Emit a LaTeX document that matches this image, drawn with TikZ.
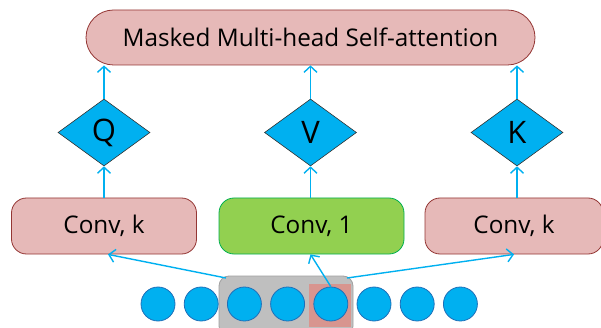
\documentclass[tikz,border=0pt]{standalone}
\usepackage{fontspec}
\setmainfont{Open Sans}
\usetikzlibrary{shapes.geometric,arrows.meta}
\definecolor{pinkf}{HTML}{E6B9B8}
\definecolor{pinkd}{HTML}{943634}
\definecolor{greenf}{HTML}{92D050}
\definecolor{greend}{HTML}{00B050}
\definecolor{cyanc}{HTML}{00B0F0}
\definecolor{circd}{HTML}{1F6FB8}
\definecolor{grayf}{HTML}{BFBFBF}
\definecolor{grayd}{HTML}{A0A0A0}
\definecolor{redsq}{HTML}{D8958F}
\tikzset{
  pinkbox/.style={draw=pinkd, fill=pinkf, line width=0.8pt, rounded corners=15pt, inner sep=0pt},
  greenbox/.style={draw=greend, fill=greenf, line width=0.8pt, rounded corners=15pt, inner sep=0pt},
  qkv/.style={shape=diamond, draw=black!80, fill=cyanc, line width=0.6pt, minimum width=92pt, minimum height=67pt, inner sep=0pt, font=\fontsize{31}{34}\selectfont},
  tok/.style={circle, draw=circd, fill=cyanc, line width=0.8pt, minimum size=34pt, inner sep=0pt},
  conn/.style={draw=cyanc, line width=1.4pt, -{Straight Barb[length=6pt,width=13pt]}},
  lbl/.style={font=\fontsize{24.3}{28}\selectfont}
}
\begin{document}
\begin{tikzpicture}[x=1pt,y=-1pt]
\useasboundingbox (0,0) rectangle (601,328);
% top box
\node[pinkbox, rounded corners=27.5pt, minimum width=449pt, minimum height=55pt, lbl] (att) at (310.5,37.5) {Masked Multi-head Self-attention};
% diamonds
\node[qkv] (q) at (104,132.5) {Q};
\node[qkv] (v) at (310.5,132.5) {V};
\node[qkv] (k) at (517,132.5) {K};
% conv boxes
\node[pinkbox, minimum width=185pt, minimum height=56pt, lbl] (lc) at (104,226) {Conv, k};
\node[greenbox, minimum width=185pt, minimum height=56pt, lbl] (mc) at (311.5,226) {Conv, 1};
\node[pinkbox, minimum width=178pt, minimum height=56pt, lbl] (rc) at (514,226) {Conv, k};
% window
\node[draw=grayd, fill=grayf, line width=0.8pt, rounded corners=10pt, minimum width=134pt, minimum height=60pt, inner sep=0pt] (win) at (286,306) {};
\node[fill=redsq, minimum width=42pt, minimum height=43pt, inner sep=0pt] (sq) at (330,305.5) {};
% tokens
\foreach \i in {1,...,8} {
  \node[tok] (t\i) at ({158+43.2*(\i-1)},304) {};
}
% arrows
\draw[conn] (q.north) -- (att.south -| q.north);
\draw[conn] (v.north) -- (att.south -| v.north);
\draw[conn] (k.north) -- (att.south -| k.north);
\draw[conn] (lc.north) -- (q.south);
\draw[conn] (mc.north -| v.south) -- (v.south);
\draw[conn] (rc.north -| k.south) -- (k.south);
\coordinate (wl) at (226,278);
\coordinate (wr) at (347,278);
\draw[conn] (wl) -- ([xshift=4pt]lc.south);
\draw[conn] (t5.north) -- ([xshift=-1pt]mc.south);
\draw[conn] (wr) -- (rc.south);
\end{tikzpicture}
\end{document}
